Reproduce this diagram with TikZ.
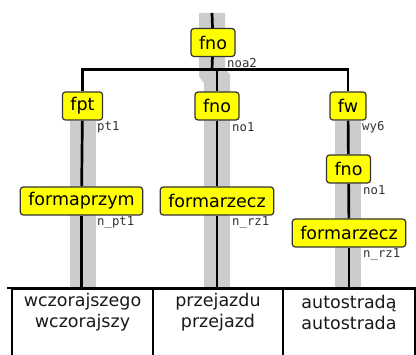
\documentclass[tikz,border=0pt]{standalone}
\usepackage{fontspec}
\setmainfont{DejaVu Sans}
\newfontfamily\monof{DejaVu Sans Mono}
\usetikzlibrary{positioning}
\pgfdeclarelayer{background}
\pgfsetlayers{background,main}
\definecolor{band}{HTML}{CCCCCC}
\definecolor{nodeyellow}{HTML}{FFFF00}
\definecolor{edgegray}{HTML}{333333}
\tikzset{
  cat/.style={draw=edgegray, line width=1.2pt, fill=nodeyellow, rounded corners=3pt,
    minimum height=28pt, inner xsep=8pt, inner ysep=0pt, text=black,
    font=\fontsize{17.5}{21}\selectfont},
  tag/.style={anchor=west, inner sep=0pt, text=edgegray, font=\monof\fontsize{12.3}{14}\selectfont},
  conn/.style={draw=black, line width=2.7pt},
  bar/.style={draw=black, line width=2.3pt},
  shade/.style={draw=band, line width=26pt, miter limit=10},
  wordbox/.style={draw=black, line width=1.8pt, minimum height=90pt, anchor=north, inner sep=0pt},
  wordtext/.style={align=center, inner sep=0pt, text=black!90, font=\fontsize{17.5}{21}\selectfont},
}
\begin{document}
\begin{tikzpicture}[x=1pt,y=-1pt]
\useasboundingbox (0,0) rectangle (416,355);
\clip (0,0) rectangle (416,355);
% nodes
\node[cat] (f0) at (213,42.5) {fno};
\node[cat] (fpt) at (82.5,106) {fpt};
\node[cat] (f1) at (217,106) {fno};
\node[cat] (fw) at (348,106) {fw};
\node[cat] (f2) at (348.5,169) {fno};
\node[cat] (fp) at (81.5,201) {formaprzym};
\node[cat] (fr1) at (217,201) {formarzecz};
\node[cat] (fr2) at (349,233) {formarzecz};
% tags
\node[tag] (l0) at (227,63) {noa2};
\node[tag] (l1) at (97,127.5) {pt1};
\node[tag] (l2) at (232,127.5) {no1};
\node[tag] (l3) at (362,127.5) {wy6};
\node[tag] (l4) at (363,190) {no1};
\node[tag] (l5) at (97,222) {n\_pt1};
\node[tag] (l6) at (232,222) {n\_rz1};
\node[tag] (l7) at (363,254) {n\_rz1};
% word boxes
\node[wordbox, minimum width=141pt] (b1) at (82.5,288) {};
\node[wordbox, minimum width=130pt] (b2) at (218,288) {};
\node[wordbox, minimum width=132pt] (b3) at (349,288) {};
\node[wordtext] (t1) at (82.5,312.5) {wczorajszego\\wczorajszy};
\node[wordtext] (t2) at (218,312.5) {przejazdu\\przejazd};
\node[wordtext] (t3) at (349,312.5) {autostradą\\autostrada};
\coordinate (root) at (212,13);
\coordinate (j0) at (212,69.5);
\coordinate (hl) at (7,288);
\coordinate (hr) at (416,288);
\begin{pgfonlayer}{background}
  \draw[shade] (root) -- (212,72) -- (217,79) -- (217,288);
  \draw[shade] (fpt.south) -- (fpt.south |- b1.north);
  \draw[shade] (fw.south) -- (fw.south |- b3.north);
  \draw[conn] (root) -- (f0);
  \draw[conn] (f0) -- (j0);
  \draw[bar] (fpt.north) |- (j0) -| (fw.north);
  \draw[conn] (f1.north) -- (f1.north |- j0);
  \draw[conn] (fpt) -- (fp);
  \draw[conn] (fp.south) -- (fp.south |- b1.north);
  \draw[conn] (f1) -- (fr1);
  \draw[conn] (fr1.south) -- (fr1.south |- b2.north);
  \draw[conn] (fw) -- (f2);
  \draw[conn] (f2) -- (fr2);
  \draw[conn] (fr2.south) -- (fr2.south |- b3.north);
\end{pgfonlayer}
\draw[bar] (hl) -- (hr);
\end{tikzpicture}
\end{document}
